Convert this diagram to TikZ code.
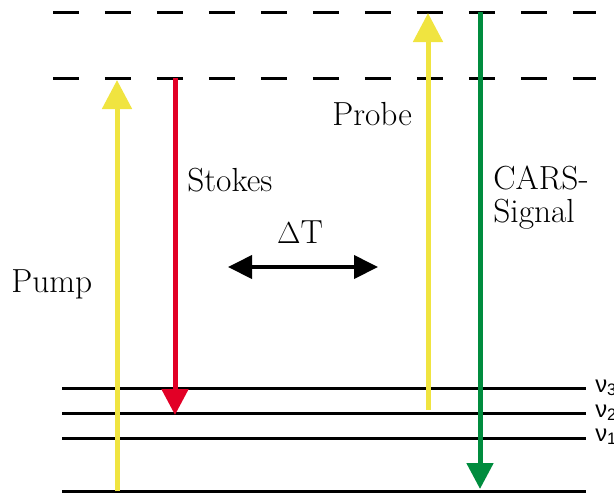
\documentclass[tikz,border=0pt]{standalone}
\usepackage{fontspec}
\setsansfont{Liberation Sans}
\usepackage{xcolor}
\usetikzlibrary{arrows.meta, positioning}
\definecolor{pumpyellow}{RGB}{240,228,64}
\definecolor{stokesred}{RGB}{226,0,38}
\definecolor{carsgreen}{RGB}{0,140,62}

\begin{document}
\begin{tikzpicture}[x=0.02cm, y=-0.02cm,
    level/.style={line width=0.06cm},
    virtual/.style={line width=0.06cm, dash pattern=on 0.52cm off 0.52cm},
    beam/.style={line width=0.1cm, -{Triangle[width=0.58cm, length=0.58cm]}},
    lbl/.style={inner sep=0pt, font=\rmfamily\fontsize{19}{18.4}\selectfont},
    nu/.style={inner sep=0pt, font=\sffamily\fontsize{13.5}{13.5}\selectfont}]
  \useasboundingbox (0,0) rectangle (614,495);

  % Levels
  \coordinate (v2a) at (53,12);   \coordinate (v2b) at (596,12);
  \coordinate (v1a) at (53,78);   \coordinate (v1b) at (596,78);
  \coordinate (n3a) at (62,388);  \coordinate (n3b) at (586,388);
  \coordinate (n2a) at (62,413);  \coordinate (n2b) at (586,413);
  \coordinate (n1a) at (62,438);  \coordinate (n1b) at (586,438);
  \coordinate (g0a) at (62,491);  \coordinate (g0b) at (586,491);

  \draw[virtual] (v2a) -- (v2b);
  \draw[virtual] (v1a) -- (v1b);
  \draw[level] (n3a) -- (n3b);
  \draw[level] (n2a) -- (n2b);
  \draw[level] (n1a) -- (n1b);
  \draw[level] (g0a) -- (g0b);

  \node[nu, anchor=base west] (nu3) at (595,392) {ν\textsubscript{3}};
  \node[nu, anchor=base west] (nu2) at (595,417) {ν\textsubscript{2}};
  \node[nu, anchor=base west] (nu1) at (595,441) {ν\textsubscript{1}};

  % Beams
  \coordinate (pumpS) at (117,491);   \coordinate (pumpE) at (117,80);
  \coordinate (stokesS) at (175,78);  \coordinate (stokesE) at (175,415);
  \coordinate (probeS) at (428,410);  \coordinate (probeE) at (428,13);
  \coordinate (carsS) at (480,12);    \coordinate (carsE) at (480,489);

  \draw[beam, pumpyellow] (pumpS) -- (pumpE);
  \draw[beam, stokesred, -{Triangle[width=0.52cm, length=0.52cm]}] (stokesS) -- (stokesE);
  \draw[beam, pumpyellow] (probeS) -- (probeE);
  \draw[beam, carsgreen, -{Triangle[width=0.52cm, length=0.52cm]}] (carsS) -- (carsE);

  % Labels
  \node[lbl, anchor=base west] (pump) at (11,292) {Pump};
  \node[lbl, anchor=base west] (stokes) at (187,191) {Stokes};
  \node[lbl, anchor=base west] (probe) at (332,125) {Probe};
  \node[lbl, anchor=north west, align=left] (cars) at (493,166) {CARS-\\Signal};

  % Delay
  \coordinate (dtL) at (228,267);
  \coordinate (dtR) at (378,267);
  \draw[line width=0.08cm, {Triangle[width=0.46cm, length=0.48cm]}-{Triangle[width=0.46cm, length=0.48cm]}] (dtL) -- (dtR);
  \node[lbl, anchor=base] (dt) at (300,243) {$\Delta$T};
\end{tikzpicture}
\end{document}
